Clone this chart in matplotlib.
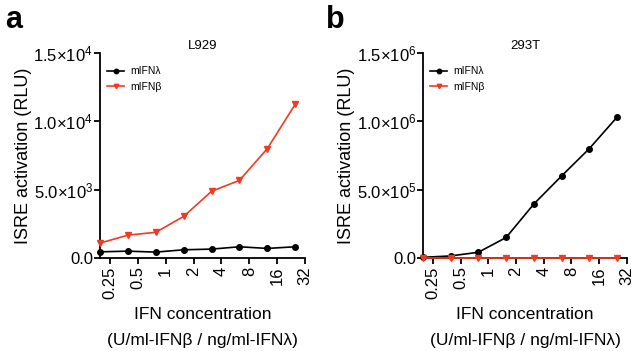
import matplotlib
matplotlib.use("Agg")
import matplotlib.pyplot as plt
from matplotlib.ticker import FixedLocator, FuncFormatter

plt.rcParams['font.family'] = ['Liberation Sans', 'DejaVu Sans']
plt.rcParams['mathtext.fontset'] = 'custom'
plt.rcParams['mathtext.rm'] = 'Liberation Sans'
plt.rcParams['mathtext.it'] = 'Liberation Sans'
plt.rcParams['mathtext.default'] = 'regular'

# doses (2-fold dilutions from 25)
conc = [0.1953125, 0.390625, 0.78125, 1.5625, 3.125, 6.25, 12.5, 25]
xticks = [0.25, 0.5, 1, 2, 4, 8, 16, 32]
xticklabels = ['0.25', '0.5', '1', '2', '4', '8', '16', '32']

# L929
l929_lambda = [450, 500, 430, 600, 650, 820, 700, 820]
l929_beta = [1090, 1670, 1880, 3040, 4880, 5680, 8000, 11250]
# 293T
t293_lambda = [5000, 15000, 42000, 150000, 395000, 600000, 800000, 1030000]
t293_beta = [1500, 1500, 1500, 1500, 1500, 1500, 1500, 1500]

red = '#f23a22'

fig = plt.figure(figsize=(6.39, 3.51), dpi=100)
ax1 = fig.add_axes([0.1565, 0.265, 0.321, 0.584])
ax2 = fig.add_axes([0.662, 0.265, 0.319, 0.584])


def sci(v, p):
    if v == 0:
        return '0.0'
    e = 0
    m = v
    while m >= 10:
        m /= 10
        e += 1
    return '%.1f×10$^{%d}$' % (m, e)


panels = [
    (ax1, 'L929', l929_lambda, l929_beta, 1.5e4, [0, 5e3, 1e4, 1.5e4]),
    (ax2, '293T', t293_lambda, t293_beta, 1.5e6, [0, 5e5, 1e6, 1.5e6]),
]

for ax, title, lam, beta, ymax, yt in panels:
    ax.plot(conc, lam, '-o', color='black', lw=1.2, ms=4, label='mIFNλ', clip_on=False, zorder=3)
    ax.plot(conc, beta, '-v', color=red, lw=1.2, ms=4, label='mIFNβ', clip_on=False, zorder=4)
    ax.set_xscale('log', base=2)
    ax.set_xlim(conc[0], 32)
    ax.set_ylim(0, ymax)
    ax.xaxis.set_major_locator(FixedLocator(xticks))
    ax.xaxis.set_minor_locator(FixedLocator([]))
    ax.set_xticklabels(xticklabels, rotation=90, fontsize=12)
    ax.yaxis.set_major_locator(FixedLocator(yt))
    ax.yaxis.set_major_formatter(FuncFormatter(sci))
    ax.tick_params(axis='y', labelsize=12, length=4, width=1.3, pad=1)
    ax.tick_params(axis='x', length=4, width=1.3, pad=2)
    for s in ['top', 'right']:
        ax.spines[s].set_visible(False)
    for s in ['left', 'bottom']:
        ax.spines[s].set_linewidth(1.3)
    ax.set_title(title, fontsize=9.5, pad=3)
    ax.set_ylabel('ISRE activation (RLU)', fontsize=13, labelpad=1)
    ax.set_xlabel('IFN concentration\n(U/ml-IFNβ / ng/ml-IFNλ)', fontsize=12.5,
                  labelpad=6, linespacing=1.9)
    ax.legend(loc='upper left', bbox_to_anchor=(0.0, 0.97), frameon=False, fontsize=7.5,
              handlelength=1.6, handletextpad=0.6, markerscale=0.8, borderaxespad=0.3,
              labelspacing=0.5)

fig.text(0.008, 0.985, 'a', fontsize=22, fontweight='bold', va='top')
fig.text(0.51, 0.985, 'b', fontsize=22, fontweight='bold', va='top')

fig.savefig('out.png', dpi=100)
